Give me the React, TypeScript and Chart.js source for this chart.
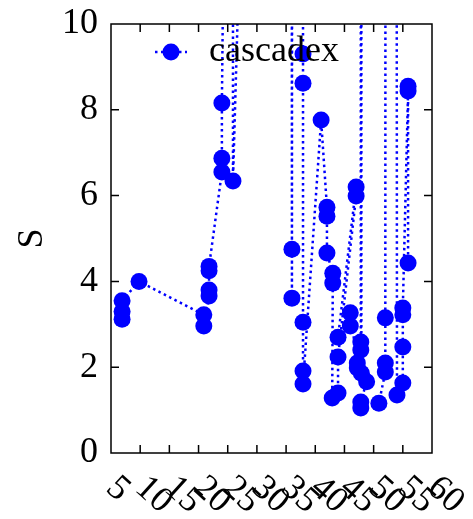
import React, { useEffect, useRef } from "react";
import { Chart, registerables } from "chart.js";

Chart.register(...registerables);

const seriesName = "cascadex";
const yAxisTitle = "S";

const xValues = [
  6.9, 6.9, 6.9, 9.8, 20.9, 20.9, 21.8, 21.8, 21.8, 21.8, 24.0, 24.0, 24.0,
  24.6, 25.9, 25.9, 27.5, 35.9, 36.0, 36.0, 36.1, 37.8, 37.9, 37.9, 37.9, 37.9,
  37.9, 41.0, 42.0, 42.0, 42.0, 43.0, 43.0, 42.9, 43.9, 43.9, 47.0, 47.0, 43.9,
  46.0, 46.0, 47.2, 47.2, 47.8, 47.8, 47.8, 47.9, 47.9, 48.8, 47.8, 47.8, 50.9,
  52.0, 52.0, 52.0, 52.1, 53.8, 54.0, 55.0, 55.0, 55.0, 55.0, 55.9, 55.9, 55.9,
];
const yValues = [
  3.12, 3.3, 3.55, 4.0, 3.22, 2.96, 3.66, 3.8, 4.25, 4.35, 6.55, 6.87, 8.16,
  16, 30, 6.34, 14, 40, 4.75, 3.61, 40, 40, 9.3, 8.62, 3.05, 1.91, 1.61, 7.76,
  5.73, 5.52, 4.66, 4.19, 3.96, 1.28, 1.4, 2.24, 5.99, 6.2, 2.7, 2.96, 3.27,
  2.1, 1.98, 2.4, 2.59, 40, 40, 1.86, 1.66, 1.19, 1.05, 1.16, 1.89, 2.1, 3.15,
  45, 45, 1.35, 1.63, 2.47, 3.22, 3.38, 8.44, 8.55, 4.43,
];

const xTickValues = [5, 10, 15, 20, 25, 30, 35, 40, 45, 50, 55, 60];
const xTickLabels = ["5", "10", "15", "20", "25", "30", "35", "40", "45", "50", "55", "60"];
const yTickValues = [0, 2, 4, 6, 8, 10];

const FONT = "'Liberation Serif', 'DejaVu Serif', serif";
const FONT_SIZE = 36;
const BLUE = "#0000ff";

const framePlugin = {
  id: "frameAndTicks",
  afterDraw(chart: any) {
    const { ctx, chartArea } = chart;
    const xs = chart.scales.x;
    const ys = chart.scales.y;
    const { left, right, top, bottom } = chartArea;
    ctx.save();
    ctx.strokeStyle = "#000";
    ctx.lineWidth = 1.5;
    ctx.strokeRect(left, top, right - left, bottom - top);
    const tl = 8;
    ctx.beginPath();
    xTickValues.forEach((v) => {
      const px = xs.getPixelForValue(v);
      if (px <= left + 1 || px >= right - 1) return;
      ctx.moveTo(px, bottom);
      ctx.lineTo(px, bottom - tl);
      ctx.moveTo(px, top);
      ctx.lineTo(px, top + tl);
    });
    yTickValues.forEach((v) => {
      const py = ys.getPixelForValue(v);
      if (py <= top + 1 || py >= bottom - 1) return;
      ctx.moveTo(left, py);
      ctx.lineTo(left + tl, py);
      ctx.moveTo(right, py);
      ctx.lineTo(right - tl, py);
    });
    ctx.stroke();

    // rotated x tick labels
    ctx.fillStyle = "#000";
    ctx.font = `${FONT_SIZE}px ${FONT}`;
    ctx.textAlign = "left";
    ctx.textBaseline = "middle";
    xTickValues.forEach((v, i) => {
      const px = xs.getPixelForValue(v);
      ctx.save();
      ctx.translate(px, bottom + 30);
      ctx.rotate((42 * Math.PI) / 180);
      ctx.fillText(xTickLabels[i], 0, 0);
      ctx.restore();
    });

    // legend
    const ly = 52;
    ctx.strokeStyle = BLUE;
    ctx.lineWidth = 2.5;
    ctx.setLineDash([2.5, 3.5]);
    ctx.beginPath();
    ctx.moveTo(155, ly);
    ctx.lineTo(187, ly);
    ctx.stroke();
    ctx.setLineDash([]);
    ctx.fillStyle = BLUE;
    ctx.beginPath();
    ctx.arc(171, ly, 8.5, 0, Math.PI * 2);
    ctx.fill();
    ctx.fillStyle = "#000";
    ctx.font = `${FONT_SIZE}px ${FONT}`;
    ctx.textAlign = "left";
    ctx.textBaseline = "middle";
    ctx.fillText(seriesName, 209, ly);
    ctx.restore();
  },
};

export default function App() {
  const ref = useRef<HTMLCanvasElement | null>(null);
  useEffect(() => {
    document.body.style.margin = "0";
    if (!ref.current) return;
    const points = xValues.map((x, i) => ({ x, y: yValues[i] }));
    const chart = new Chart(ref.current, {
      type: "scatter",
      data: {
        datasets: [
          {
            label: seriesName,
            data: points,
            showLine: true,
            borderColor: BLUE,
            borderWidth: 2.5,
            borderDash: [2.5, 3.5],
            backgroundColor: BLUE,
            pointBackgroundColor: BLUE,
            pointBorderWidth: 0,
            pointRadius: 8.5,
            pointHoverRadius: 8.5,
          } as any,
        ],
      },
      plugins: [framePlugin],
      options: {
        animation: false,
        responsive: true,
        maintainAspectRatio: false,
        events: [],
        layout: { padding: { top: 24, right: 41, bottom: 66, left: 0 } },
        plugins: { legend: { display: false }, tooltip: { enabled: false } },
        scales: {
          x: {
            type: "linear",
            min: 5,
            max: 60,
            display: false,
          },
          y: {
            type: "linear",
            min: 0,
            max: 10,
            afterFit: (scale: any) => {
              scale.width = 111;
              scale.paddingTop = 0;
              scale.paddingBottom = 0;
            },
            grid: { display: false, drawTicks: false },
            border: { display: false },
            ticks: {
              stepSize: 2,
              padding: 13,
              color: "#000",
              font: { family: FONT, size: FONT_SIZE },
            },
            title: {
              display: true,
              text: yAxisTitle,
              color: "#000",
              padding: { top: 11, bottom: 4 },
              font: { family: FONT, size: FONT_SIZE },
            },
          },
        },
      },
    });
    return () => chart.destroy();
  }, []);
  return (
    <div style={{ position: "absolute", left: 0, top: 0, width: 473, height: 519 }}>
      <canvas ref={ref} />
    </div>
  );
}
